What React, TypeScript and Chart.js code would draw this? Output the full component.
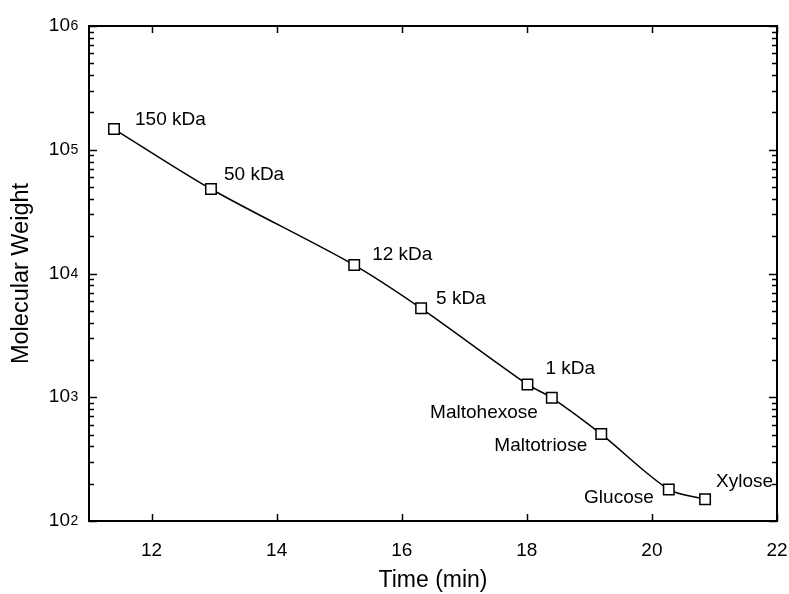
import React, { useEffect, useRef } from 'react';
import { Chart, registerables } from 'chart.js';

Chart.register(...registerables);

// ---- data ----
const retentionTime = [11.40, 12.95, 15.24, 16.31, 18.01, 18.40, 19.19, 20.27, 20.85];
const molecularWeight = [147000, 48200, 11700, 5230, 1270, 990, 504, 180, 150];
const standardNames = ['150 kDa', '50 kDa', '12 kDa', '5 kDa', '1 kDa', 'Maltohexose', 'Maltotriose', 'Glucose', 'Xylose'];
const xTickValues = [12, 14, 16, 18, 20, 22];
const yDecadeValues = [100, 1000, 10000, 100000, 1000000];

const FONT = '"Liberation Sans", Arial, Helvetica, sans-serif';

// label placement relative to its marker (pixels)
const labelPlacement: [number, number, CanvasTextAlign][] = [
  [21, -9, 'left'],
  [13, -14, 'left'],
  [18, -10, 'left'],
  [15, -10, 'left'],
  [18, -16, 'left'],
  [-14, 15, 'right'],
  [-14, 12, 'right'],
  [-15, 8, 'right'],
  [11, -17, 'left'],
];

const frameTicksPlugin = {
  id: 'frameTicks',
  beforeDatasetsDraw(chart: any) {
    const { ctx, chartArea } = chart;
    const { left, right, top, bottom } = chartArea;
    const xs = chart.scales.x;
    const ys = chart.scales.y;
    ctx.save();
    ctx.strokeStyle = '#000';
    ctx.lineWidth = 1.5;
    ctx.beginPath();
    xTickValues.forEach((v) => {
      const px = Math.round(xs.getPixelForValue(v)) + 0.5;
      ctx.moveTo(px, bottom);
      ctx.lineTo(px, bottom - 7);
      ctx.moveTo(px, top);
      ctx.lineTo(px, top + 7);
    });
    const dMin = Math.floor(Math.log10(ys.min));
    const dMax = Math.ceil(Math.log10(ys.max));
    for (let d = dMin; d <= dMax; d++) {
      for (let k = 1; k <= 9; k++) {
        const v = k * Math.pow(10, d);
        if (v < ys.min * 0.999 || v > ys.max * 1.001) continue;
        const py = Math.round(ys.getPixelForValue(v)) + 0.5;
        const len = k === 1 ? 8 : 5;
        ctx.moveTo(left, py);
        ctx.lineTo(left + len, py);
        ctx.moveTo(right, py);
        ctx.lineTo(right - len, py);
      }
    }
    ctx.stroke();
    ctx.lineWidth = 2;
    ctx.strokeRect(left, top, right - left, bottom - top);
    ctx.restore();
  },
  afterDatasetsDraw(chart: any) {
    const { ctx } = chart;
    const meta = chart.getDatasetMeta(0);
    ctx.save();
    ctx.fillStyle = '#000';
    ctx.font = `19px ${FONT}`;
    ctx.textBaseline = 'middle';
    meta.data.forEach((el: any, i: number) => {
      const [dx, dy, align] = labelPlacement[i];
      ctx.textAlign = align;
      ctx.fillText(standardNames[i], el.x + dx, el.y + dy);
    });
    ctx.restore();
  },
  afterDraw(chart: any) {
    const { ctx, chartArea } = chart;
    const ys = chart.scales.y;
    ctx.save();
    ctx.fillStyle = '#000';
    yDecadeValues.forEach((v) => {
      const py = ys.getPixelForValue(v);
      const exp = String(Math.round(Math.log10(v)));
      const baseRight = chartArea.left - 19;
      ctx.font = `19px ${FONT}`;
      ctx.textAlign = 'right';
      ctx.textBaseline = 'middle';
      ctx.fillText('10', baseRight, py);
      ctx.font = `14px ${FONT}`;
      ctx.textAlign = 'left';
      ctx.textBaseline = 'alphabetic';
      ctx.fillText(exp, baseRight + 0.5, py + 4);
    });
    ctx.restore();
  },
};

export default function App() {
  const canvasRef = useRef<HTMLCanvasElement | null>(null);

  useEffect(() => {
    if (!canvasRef.current) return;
    Chart.defaults.font.family = FONT;
    Chart.defaults.color = '#000';
    const chart = new Chart(canvasRef.current, {
      type: 'line',
      data: {
        datasets: [
          {
            data: retentionTime.map((t, i) => ({ x: t, y: molecularWeight[i] })),
            borderColor: '#000',
            borderWidth: 1.5,
            tension: 0.3,
            pointStyle: 'rect',
            pointRadius: 7.4,
            pointBorderWidth: 1.5,
            pointBackgroundColor: '#fff',
            pointBorderColor: '#000',
            fill: false,
          },
        ],
      },
      options: {
        animation: false,
        responsive: true,
        maintainAspectRatio: false,
        layout: { padding: { top: 26, right: 12, left: 0, bottom: 0 } },
        plugins: {
          legend: { display: false },
          tooltip: { enabled: false },
        },
        scales: {
          x: {
            type: 'linear',
            min: 11,
            max: 22,
            grid: { display: false },
            border: { display: false },
            afterBuildTicks: (scale: any) => {
              scale.ticks = xTickValues.map((v) => ({ value: v }));
            },
            afterFit: (scale: any) => {
              scale.height = 73;
              scale.paddingLeft = 0;
              scale.paddingRight = 0;
            },
            ticks: {
              color: '#000',
              font: { size: 19, family: FONT },
              padding: 10,
              maxRotation: 0,
              autoSkip: false,
            },
            title: {
              display: true,
              text: 'Time (min)',
              color: '#000',
              font: { size: 23, family: FONT },
              padding: { top: 0, bottom: 0 },
            },
          },
          y: {
            type: 'logarithmic',
            min: 100,
            max: 1000000,
            grid: { display: false },
            border: { display: false },
            afterBuildTicks: (scale: any) => {
              scale.ticks = yDecadeValues.map((v) => ({ value: v }));
            },
            afterFit: (scale: any) => {
              scale.width = 89;
              scale.paddingTop = 0;
              scale.paddingBottom = 0;
            },
            ticks: { display: false },
            title: {
              display: true,
              text: 'Molecular Weight',
              color: '#000',
              font: { size: 23.5, family: FONT },
              padding: { top: 7, bottom: 0 },
            },
          },
        },
      },
      plugins: [frameTicksPlugin],
    } as any);
    return () => chart.destroy();
  }, []);

  return (
    <div style={{ position: 'fixed', left: 0, top: 0, width: 789, height: 594, background: '#fff' }}>
      <canvas ref={canvasRef} />
    </div>
  );
}
